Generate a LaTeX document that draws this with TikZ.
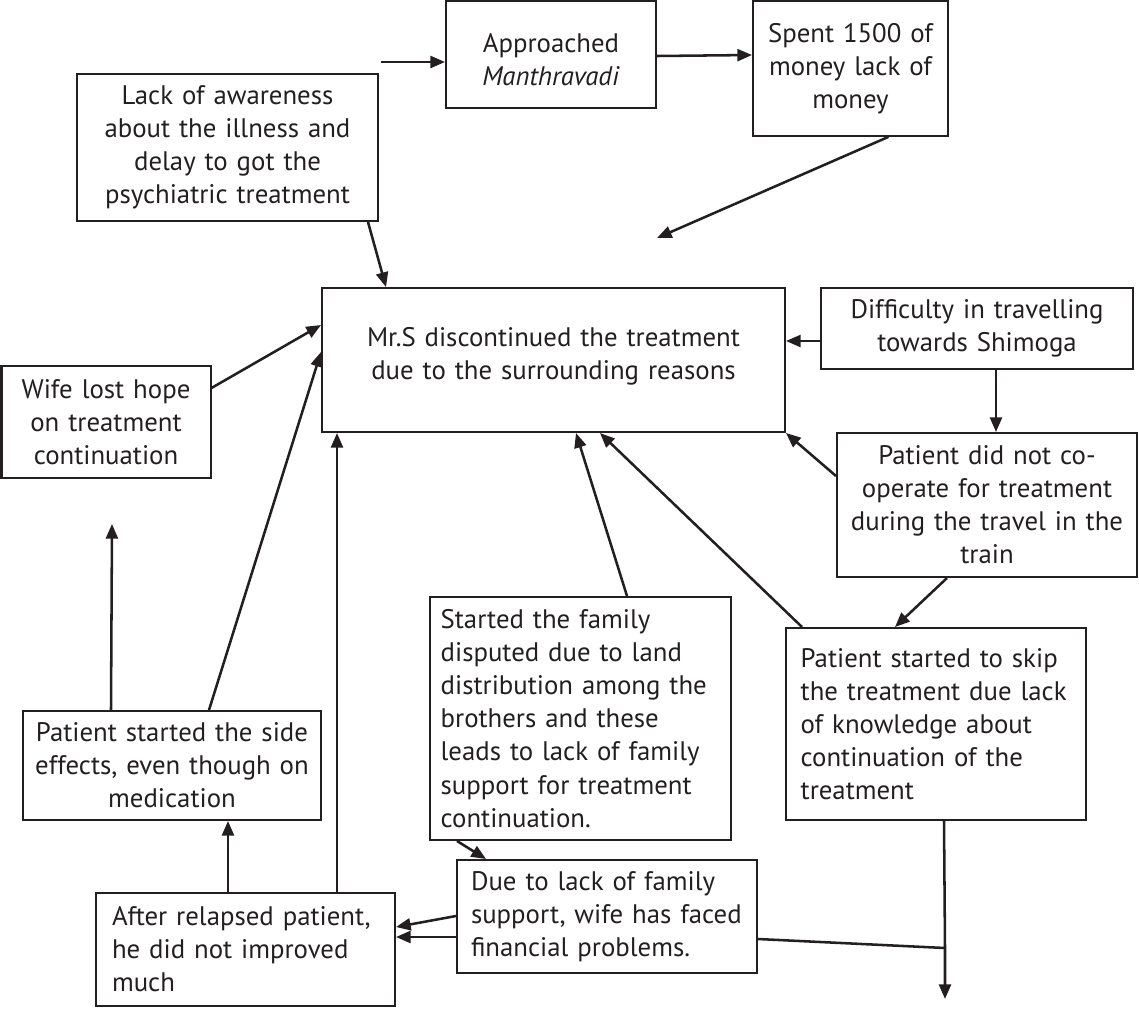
\documentclass[tikz,border=0pt]{standalone}
\usepackage{fontspec}
\setmainfont{PT Sans}
\usetikzlibrary{arrows.meta,calc}
\definecolor{ink}{HTML}{231F20}
\begin{document}
\begin{tikzpicture}[x=0.75pt,y=-0.75pt,
  font=\fontsize{20.1pt}{24.8pt}\selectfont,
  box/.style={draw=ink,text=ink,line width=1.5pt,inner ysep=0pt,inner xsep=0pt,align=center},
  lbox/.style={box,align=left},
  arr/.style={draw=ink,line width=1.9pt,-{Triangle[length=11pt,width=9pt]}},
  ln/.style={draw=ink,line width=1.9pt}]
\useasboundingbox (0,0) rectangle (1139,1008);
% boxes
\node[box,minimum width=157.5pt,minimum height=80pt,text width=157.5pt] (appr) at (551,54.5) {\mbox{}\\[-3pt]Approached\\\textit{Manthravadi}};
\node[box,minimum width=146.25pt,minimum height=101pt,text width=146.25pt] (spent) at (850.5,68.5) {Spent 1500 of\\money lack of\\money};
\node[box,minimum width=225.75pt,minimum height=110.25pt,text width=225.75pt] (lack) at (227.5,147.5) {Lack of awareness\\about the illness and\\delay to got the\\psychiatric treatment};
\node[box,minimum width=347.25pt,minimum height=108pt,text width=347.25pt] (main) at (553.5,360) {Mr.S discontinued the treatment\\due to the surrounding reasons\\[-15pt]\mbox{}};
\node[box,minimum width=234pt,minimum height=60.75pt,text width=234pt] (diff) at (977,328.5) {Difficulty in travelling\\towards Shimoga};
\node[box,minimum width=156.75pt,minimum height=84pt,text width=156.75pt] (wife) at (106,422) {Wife lost hope\\on treatment\\continuation};
\node[box,minimum width=225pt,minimum height=108pt,text width=225pt] (coop) at (987,505) {Patient did not co-\\operate for treatment\\during the travel in the\\train};
\node[lbox,minimum width=225.75pt,minimum height=182.25pt,inner xsep=8pt,text width=209.75pt] (family) at (580.5,718.5) {Started the family\\disputed due to land\\distribution among the\\brothers and these\\leads to lack of family\\support for treatment\\continuation.};
\node[lbox,minimum width=225pt,minimum height=144pt,inner xsep=11pt,text width=203pt] (skip) at (936,724) {Patient started to skip\\the treatment due lack\\of knowledge about\\continuation of the\\treatment};
\node[box,minimum width=223.5pt,minimum height=81.75pt,text width=223.5pt] (side) at (172,765.5) {Patient started the side\\effects, even though on\\medication};
\node[lbox,minimum width=224.25pt,minimum height=84.75pt,inner xsep=12pt,text width=200.25pt] (after) at (245.5,949.5) {After relapsed patient,\\he did not improved\\much};
\node[lbox,minimum width=225pt,minimum height=84.75pt,inner xsep=10.5pt,text width=204pt] (due) at (607,916.5) {\mbox{Due to lack of family}\\\mbox{support, wife has faced}\\\mbox{financial problems.}};
% free ends
\coordinate (s1) at (381,62);
\coordinate (e3) at (657,238);
\coordinate (e8) at (112,524);
\coordinate (j) at (945,948);
\coordinate (e19) at (945,999);
% connectors
\draw[arr] (s1) -- ($(appr.west)+(0,7.5)$);
\draw[arr] ($(appr.east)+(0,1.5)$) -- ($(spent.west)+(0,-13.5)$);
\draw[arr] ($(spent.south)+(38,0)$) -- (e3);
\draw[arr] ($(lack.south east)+(-11,0)$) -- ($(main.north west)+(65,0)$);
\draw[arr] ($(wife.north east)+(0,23)$) -- ($(main.north west)+(0,38)$);
\draw[arr] ($(side.north west)+(187,0)$) -- ($(main.north west)+(0,65)$);
\draw[arr] ($(after.north west)+(242,0)$) -- ($(main.south west)+(16,0)$);
\draw[arr] ($(side.north west)+(89,0)$) -- (e8);
\draw[arr] ($(after.north west)+(133,0)$) -- ($(side.south west)+(206,0)$);
\draw[arr] ($(family.north west)+(198,0)$) -- ($(main.south west)+(255,0)$);
\draw[arr] ($(skip.north west)+(17,0)$) -- ($(main.south west)+(279,0)$);
\draw[arr] ($(coop.north west)+(0,44)$) -- (main.south east);
\draw[arr] ($(diff.north west)+(0,54)$) -- ($(main.north east)+(0,54)$);
\draw[arr] ($(diff.south west)+(176,0)$) -- ($(coop.north west)+(160,0)$);
\draw[arr] ($(coop.south west)+(111,0)$) -- ($(skip.north west)+(110,0)$);
\draw[arr] ($(family.south west)+(28,0)$) -- ($(due.north west)+(30,0)$);
\draw[arr] ($(due.north west)+(0,57)$) -- ($(after.north east)+(0,35)$);
\draw[arr] ($(due.north west)+(0,78)$) -- ($(after.north east)+(0,45)$);
\draw[ln] ($(due.north east)+(0,80)$) -- (j);
\draw[arr] ($(skip.south west)+(159,0)$) -- (j) -- (e19);
\end{tikzpicture}
\end{document}
